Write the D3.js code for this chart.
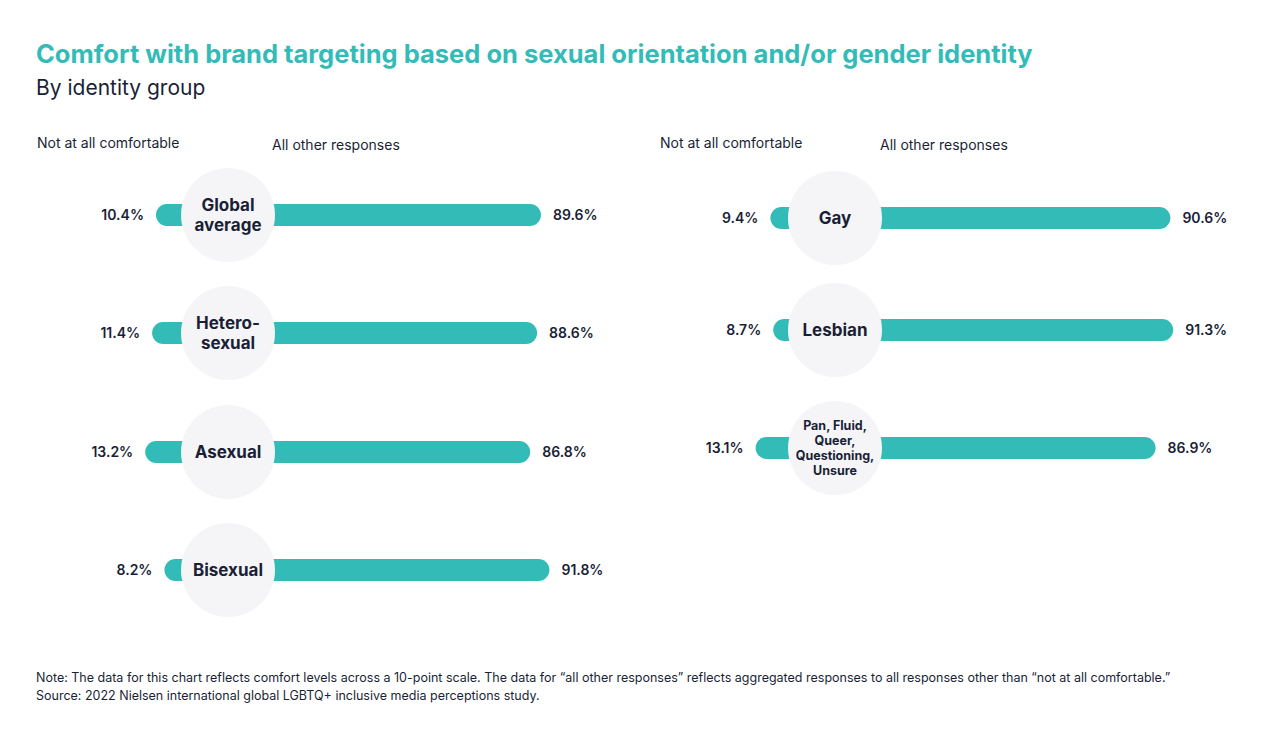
<!DOCTYPE html>
<html><head><meta charset="utf-8">
<script src="https://cdn.jsdelivr.net/npm/d3@7"></script>
<style>body{margin:0;background:#fff;font-family:Inter,"Noto Sans",sans-serif;}</style>
</head><body><div id="viz"></div>
<script>
const leftGroups = [["Global", "average"], ["Hetero-", "sexual"], ["Asexual"], ["Bisexual"]];
const leftNot = [10.4, 11.4, 13.2, 8.2];
const leftOther = [89.6, 88.6, 86.8, 91.8];
const rightGroups = [["Gay"], ["Lesbian"], ["Pan, Fluid,", "Queer,", "Questioning,", "Unsure"]];
const rightNot = [9.4, 8.7, 13.1];
const rightOther = [90.6, 91.3, 86.9];

const teal = "#33bcb7", ink = "#1a1f36";
const svg = d3.select("#viz").append("svg").attr("width", 1280).attr("height", 751);

svg.append("text").attr("x", 36).attr("y", 63).attr("fill", teal)
  .attr("font-size", 25.5).attr("font-weight", 700).attr("letter-spacing", 0)
  .text("Comfort with brand targeting based on sexual orientation and/or gender identity");
svg.append("text").attr("x", 36).attr("y", 95).attr("fill", ink).attr("font-size", 21)
  .text("By identity group");

function panel(groups, notVals, otherVals, split, cx, headX, headGap, scaleW, rowY) {
  const x = d3.scaleLinear().domain([0, 100]).range([0, scaleW]);
  const y = d3.scaleOrdinal().domain(d3.range(groups.length)).range(rowY);
  const g = svg.append("g");
  g.append("text").attr("x", headX).attr("y", 148).attr("font-size", 14).attr("fill", ink).text("Not at all comfortable");
  g.append("text").attr("x", headX + headGap).attr("y", 150).attr("font-size", 14).attr("fill", ink).text("All other responses");
  const rows = g.selectAll("g.row").data(groups).join("g").attr("transform", (d, i) => `translate(0,${y(i)})`);
  rows.append("rect").attr("x", (d, i) => split - x(notVals[i])).attr("y", -11)
    .attr("width", (d, i) => x(notVals[i]) + x(otherVals[i])).attr("height", 22).attr("rx", 11).attr("fill", teal);
  rows.append("circle").attr("cx", cx).attr("cy", 0).attr("r", 47).attr("fill", "#f5f5f7");
  rows.append("text").attr("x", (d, i) => split - x(notVals[i]) - 12).attr("y", 5)
    .attr("text-anchor", "end").attr("font-size", 14).attr("font-weight", 600).attr("fill", ink)
    .text((d, i) => notVals[i].toFixed(1) + "%");
  rows.append("text").attr("x", (d, i) => split + x(otherVals[i]) + 12).attr("y", 5)
    .attr("font-size", 14).attr("font-weight", 600).attr("fill", ink)
    .text((d, i) => otherVals[i].toFixed(1) + "%");
  rows.each(function(lines) {
    const small = lines.length > 2;
    const lh = small ? 15 : 20, fs = small ? 12.5 : 17;
    const t = d3.select(this).append("text").attr("text-anchor", "middle").attr("font-size", fs)
      .attr("font-weight", 700).attr("fill", ink);
    lines.forEach((l, j) => t.append("tspan").attr("x", cx)
      .attr("y", (j - (lines.length - 1) / 2) * lh + fs * 0.36).text(l));
  });
}
panel(leftGroups, leftNot, leftOther, 196, 228, 37, 235, 385, [215, 333, 452, 570]);
panel(rightGroups, rightNot, rightOther, 808, 835, 660, 220, 400, [218, 330, 448]);

svg.append("text").attr("x", 36).attr("y", 682).attr("font-size", 12.5).attr("fill", ink)
  .text("Note: The data for this chart reflects comfort levels across a 10-point scale. The data for \u201call other responses\u201d reflects aggregated responses to all responses other than \u201cnot at all comfortable.\u201d");
svg.append("text").attr("x", 36).attr("y", 700).attr("font-size", 12.5).attr("fill", ink)
  .text("Source: 2022 Nielsen international global LGBTQ+ inclusive media perceptions study.");
</script></body></html>
